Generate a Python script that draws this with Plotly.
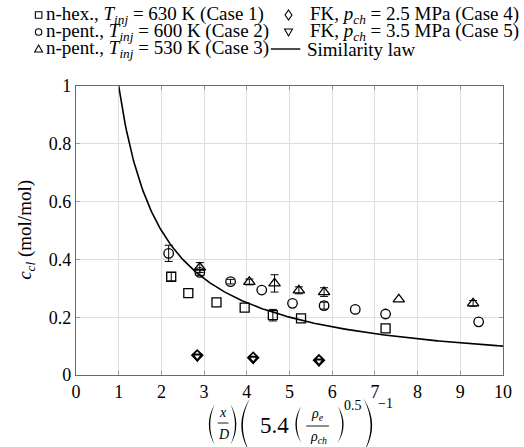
import numpy as np
import plotly.graph_objects as go

# ---- measured concentrations (scaled axial distance vs. c_cl) ----
case1_x = [2.23, 2.63, 3.29, 3.95, 4.61, 5.27, 7.25]
case1_y = [0.340, 0.283, 0.251, 0.233, 0.207, 0.196, 0.161]
case1_err = [0.015, 0.0, 0.0, 0.0, 0.020, 0.0, 0.0]

case2_x = [2.17, 2.90, 3.62, 4.35, 5.07, 5.81, 6.54, 7.25, 9.43]
case2_y = [0.421, 0.355, 0.323, 0.294, 0.248, 0.240, 0.227, 0.211, 0.184]
case2_err = [0.028, 0.010, 0.008, 0.0, 0.0, 0.012, 0.0, 0.0, 0.0]

case3_x = [2.90, 4.06, 4.65, 5.22, 5.81, 7.56, 9.30]
case3_y = [0.372, 0.322, 0.317, 0.293, 0.287, 0.262, 0.248]
case3_err = [0.017, 0.010, 0.030, 0.012, 0.015, 0.0, 0.010]

case4_x = [2.84, 4.15, 5.69]
case4_y = [0.068, 0.060, 0.051]

case5_x = [2.84, 4.15, 5.69]
case5_y = [0.064, 0.056, 0.047]

x_ticks = [0, 1, 2, 3, 4, 5, 6, 7, 8, 9, 10]
y_ticks = [0, 0.2, 0.4, 0.6, 0.8, 1]

legend_names = [
    "n-hex., <i>T</i><sub><i>inj</i></sub> = 630 K (Case 1)",
    "n-pent., <i>T</i><sub><i>inj</i></sub> = 600 K (Case 2)",
    "n-pent., <i>T</i><sub><i>inj</i></sub> = 530 K (Case 3)",
    "FK, <i>p</i><sub><i>ch</i></sub> = 2.5 MPa (Case 4)",
    "FK, <i>p</i><sub><i>ch</i></sub> = 3.5 MPa (Case 5)",
    "Similarity law",
]

# similarity law: c_cl = 1 / (scaled distance)
law_x = np.linspace(1.0, 10.0, 300)
law_y = 1.0 / law_x

FONT = "Liberation Serif, DejaVu Serif, serif"
W, H = 524, 447
ML, MR, MT, MB = 76, 14, 86, 72
PW, PH = W - ML - MR, H - MT - MB


def fx(px):
    return (px - ML) / PW


def fy(py):
    return (H - MB - py) / PH


fig = go.Figure()

mk_line = dict(color="black", width=1.3)
err_style = dict(color="black", thickness=1, width=4)


def add_errors(xs, ys, errs):
    # error bars only where an uncertainty was measured
    sel = [i for i, e in enumerate(errs) if e > 0]
    fig.add_trace(go.Scatter(
        x=[xs[i] for i in sel], y=[ys[i] for i in sel], mode="markers",
        marker=dict(size=1, color="rgba(0,0,0,0)"),
        error_y=dict(type="data", array=[errs[i] for i in sel], visible=True, **err_style),
        hoverinfo="skip", showlegend=False))


add_errors(case1_x, case1_y, case1_err)
add_errors(case2_x, case2_y, case2_err)
add_errors(case3_x, case3_y, case3_err)

fig.add_trace(go.Scatter(
    x=case1_x, y=case1_y, mode="markers", name=legend_names[0],
    marker=dict(symbol="square-open", size=9, color="black", line=mk_line),
    showlegend=False))
fig.add_trace(go.Scatter(
    x=case2_x, y=case2_y, mode="markers", name=legend_names[1],
    marker=dict(symbol="circle-open", size=9.5, color="black", line=mk_line),
    showlegend=False))
fig.add_trace(go.Scatter(
    x=case3_x, y=case3_y, mode="markers", name=legend_names[2],
    marker=dict(symbol="triangle-up-open", size=10, color="black", line=mk_line),
    showlegend=False))
fig.add_trace(go.Scatter(
    x=case4_x, y=case4_y, mode="markers", name=legend_names[3],
    marker=dict(symbol="diamond-open", size=8, color="black",
                line=dict(color="black", width=1.8)),
    showlegend=False))
fig.add_trace(go.Scatter(
    x=case5_x, y=case5_y, mode="markers", name=legend_names[4],
    marker=dict(symbol="triangle-down-open", size=8, color="black",
                line=dict(color="black", width=2)),
    showlegend=False))
fig.add_trace(go.Scatter(
    x=law_x, y=law_y, mode="lines", name=legend_names[5],
    line=dict(color="black", width=1.6),
    showlegend=False))

shapes = []
annotations = []

# ---- legend drawn in the top margin ----
row_y = [15, 32, 49]
col1_sym, col1_txt = 38, 43
col2_sym, col2_txt = 292, 312
LW = 1.1


def sq(cx, cy, r):
    return dict(type="rect", xref="paper", yref="paper",
                x0=fx(cx - r), x1=fx(cx + r), y0=fy(cy + r), y1=fy(cy - r),
                line=dict(color="black", width=LW))


def circ(cx, cy, r):
    return dict(type="circle", xref="paper", yref="paper",
                x0=fx(cx - r), x1=fx(cx + r), y0=fy(cy + r), y1=fy(cy - r),
                line=dict(color="black", width=LW))


def poly(pts):
    d = "M " + " L ".join(f"{fx(a):.5f},{fy(b):.5f}" for a, b in pts) + " Z"
    return dict(type="path", xref="paper", yref="paper", path=d,
                line=dict(color="black", width=LW))


shapes.append(sq(col1_sym, row_y[0], 3.3))
shapes.append(circ(col1_sym, row_y[1], 3.3))
cx, cy = col1_sym, row_y[2]
shapes.append(poly([(cx - 4, cy + 3), (cx + 4, cy + 3), (cx, cy - 4)]))
cx, cy = col2_sym, row_y[0]
shapes.append(poly([(cx, cy - 5), (cx + 3.5, cy), (cx, cy + 5), (cx - 3.5, cy)]))
cx, cy = col2_sym, row_y[1]
shapes.append(poly([(cx - 4, cy - 3), (cx + 4, cy - 3), (cx, cy + 4)]))
shapes.append(dict(type="line", xref="paper", yref="paper",
                   x0=fx(274), x1=fx(304), y0=fy(row_y[2]), y1=fy(row_y[2]),
                   line=dict(color="black", width=1.4)))

legend_pos = [(col1_txt, row_y[0]), (col1_txt, row_y[1]), (col1_txt, row_y[2]),
              (col2_txt, row_y[0]), (col2_txt, row_y[1]), (309, row_y[2])]
for name, (lx, ly) in zip(legend_names, legend_pos):
    annotations.append(dict(text=name, xref="paper", yref="paper",
                            x=fx(lx), y=fy(ly), xanchor="left", yanchor="middle",
                            showarrow=False, font=dict(family=FONT, size=19, color="black")))

# ---- y-axis title ----
annotations.append(dict(text="<i>c</i><sub><i>cl</i></sub> (mol/mol)",
                        xref="paper", yref="paper", x=fx(25), y=fy(230),
                        xanchor="center", yanchor="middle", textangle=-90,
                        showarrow=False, font=dict(family=FONT, size=19, color="black")))


# ---- x-axis title built from pieces: (x/D) (5.4 (rho_e/rho_ch)^0.5)^-1 ----
def paren(x_tip, y_top, y_bot, bulge, thick=1.4):
    ym = (y_top + y_bot) / 2
    sgn = 1 if x_tip > bulge else -1
    c_out = 2 * bulge - x_tip
    c_in = 2 * (bulge + sgn * thick) - x_tip
    d = (f"M {fx(x_tip):.5f},{fy(y_top):.5f} "
         f"Q {fx(c_out):.5f},{fy(ym):.5f} {fx(x_tip):.5f},{fy(y_bot):.5f} "
         f"Q {fx(c_in):.5f},{fy(ym):.5f} {fx(x_tip):.5f},{fy(y_top):.5f} Z")
    return dict(type="path", xref="paper", yref="paper", path=d,
                fillcolor="black", line=dict(width=0))


def bar(x0, x1, y):
    return dict(type="line", xref="paper", yref="paper",
                x0=fx(x0), x1=fx(x1), y0=fy(y), y1=fy(y),
                line=dict(color="black", width=0.9))


def txt(s, x, y, size):
    return dict(text=s, xref="paper", yref="paper", x=fx(x), y=fy(y),
                xanchor="center", yanchor="middle", showarrow=False,
                font=dict(family=FONT, size=size, color="black"))


shapes += [
    paren(217, 404, 445, 211),
    paren(233, 404, 445, 239),
    paren(253, 398, 453, 244, thick=1.6),
    paren(305, 406, 443, 299),
    paren(342, 406, 443, 348),
    paren(368, 398, 453, 377, thick=1.6),
    bar(220, 231, 423),
    bar(310, 333, 426),
]
annotations += [
    txt("<i>x</i>", 225.5, 412, 14),
    txt("<i>D</i>", 225.5, 434, 14),
    txt("5.4", 278, 425, 23),
    txt("<i>ρ</i><sub><i>e</i></sub>", 321, 414, 14),
    txt("<i>ρ</i><sub><i>ch</i></sub>", 322, 437, 14),
    txt("0.5", 358, 405, 14),
    txt("−1", 391, 403, 14),
]

axis_common = dict(
    showgrid=True, gridcolor="#dedede", gridwidth=1,
    showline=True, linecolor="#6a6a6a", linewidth=1.2, mirror="ticks",
    ticks="inside", ticklen=4, tickcolor="#9a9a9a", tickwidth=1,
    zeroline=False,
    tickfont=dict(family=FONT, size=18, color="black"),
)

fig.update_layout(
    width=W, height=H,
    margin=dict(l=ML, r=MR, t=MT, b=MB, pad=0),
    paper_bgcolor="white", plot_bgcolor="white",
    showlegend=False,
    font=dict(family=FONT, color="black"),
    xaxis=dict(range=[0, 10], tickvals=x_ticks, ticktext=[str(v) for v in x_ticks],
               **axis_common),
    yaxis=dict(range=[0, 1], tickvals=y_ticks, ticktext=[f"{v:g}" for v in y_ticks],
               **axis_common),
    shapes=shapes,
    annotations=annotations,
)

fig.write_html("out.html")
